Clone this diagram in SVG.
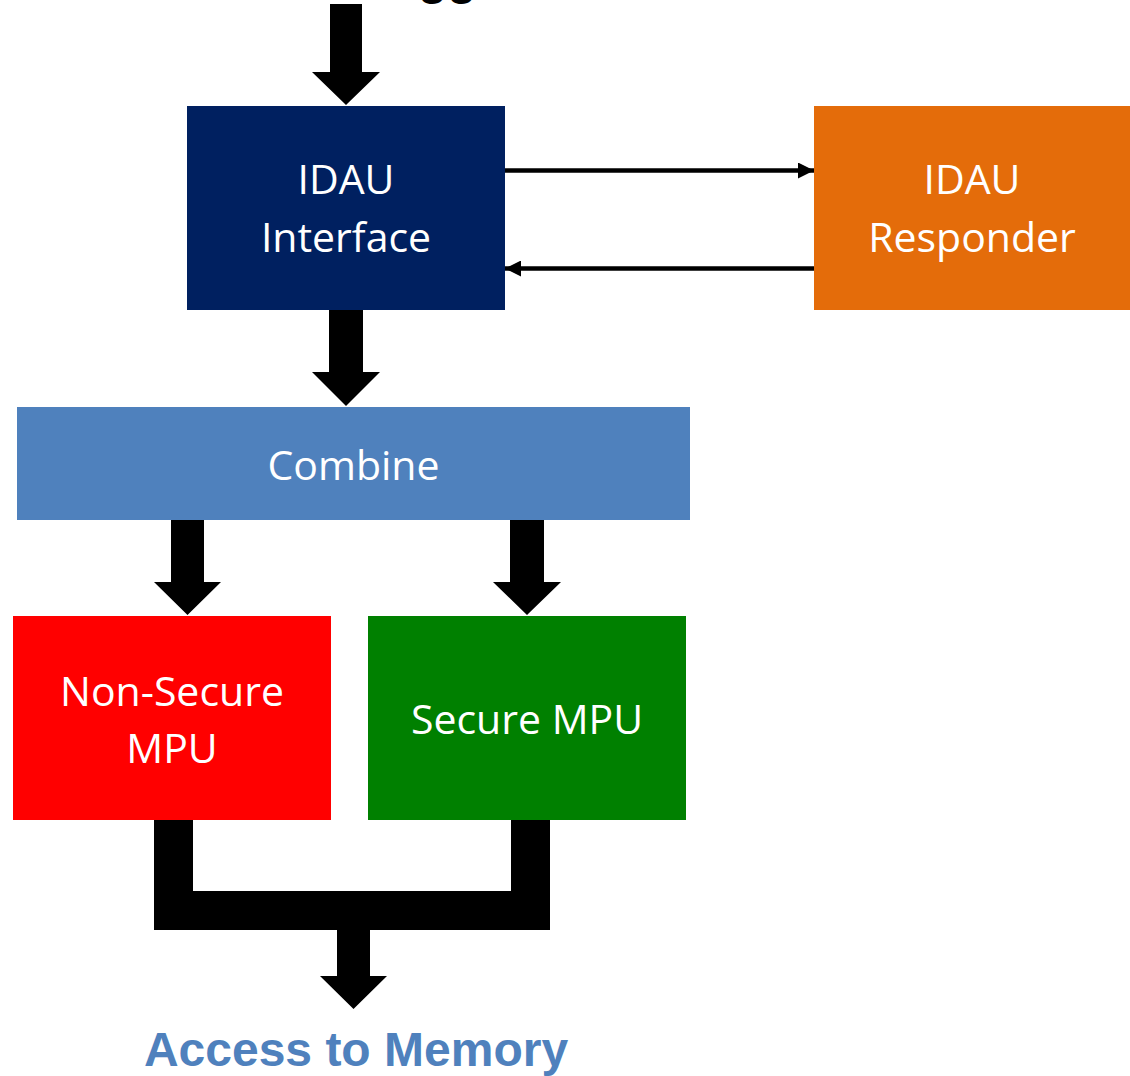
<svg xmlns="http://www.w3.org/2000/svg" width="1130" height="1076" viewBox="0 0 1130 1076">
  <defs>
    <style>
      .label { font-family: "Open Sans", "Noto Sans", "Liberation Sans", sans-serif; font-size: 41px; fill: #ffffff; text-anchor: middle; }
      .title { font-family: "Liberation Sans", Arial, sans-serif; font-size: 48px; font-weight: bold; }
      .block { fill: #000000; }
      .thin { stroke: #000000; stroke-width: 4.5; fill: none; }
    </style>
    <marker id="head" viewBox="0 0 16 16" refX="16" refY="8" markerWidth="16" markerHeight="16" markerUnits="userSpaceOnUse" orient="auto">
      <path d="M0,0 L16,8 L0,16 Z" fill="#000000"/>
    </marker>
  </defs>

  <rect width="1130" height="1076" fill="#ffffff"/>

  <!-- incoming label, mostly above the top edge -->
  <text class="title" x="298" y="-6" fill="#000000">Debugger</text>

  <!-- connectors -->
  <g id="connectors">
    <polygon class="block" points="330,4 362,4 362,72 380,72 346,105 312,72 330,72"/>
    <polygon class="block" points="329,310 363,310 363,372 380,372 346,406 312,372 329,372"/>
    <polygon class="block" points="171,520 204,520 204,582 221,582 187.5,615 154,582 171,582"/>
    <polygon class="block" points="510,520 544,520 544,582 561,582 527,615 493,582 510,582"/>
    <path class="block" d="M154,818 H193 V891 H511 V818 H550 V930 H154 Z"/>
    <polygon class="block" points="337,929 370,929 370,976 387,976 353.5,1009 320,976 337,976"/>
    <line class="thin" x1="505" y1="170.5" x2="814" y2="170.5" marker-end="url(#head)"/>
    <line class="thin" x1="814" y1="268.5" x2="505" y2="268.5" marker-end="url(#head)"/>
  </g>

  <g id="idau-interface">
    <rect x="187" y="106" width="318" height="204" fill="#002060"/>
    <text class="label" x="346" y="194">IDAU</text>
    <text class="label" x="346" y="252">Interface</text>
  </g>

  <g id="idau-responder">
    <rect x="814" y="106" width="316" height="204" fill="#E46C0A"/>
    <text class="label" x="972" y="194">IDAU</text>
    <text class="label" x="972" y="252">Responder</text>
  </g>

  <g id="combine">
    <rect x="17" y="407" width="673" height="113" fill="#4F81BD"/>
    <text class="label" x="353.5" y="480">Combine</text>
  </g>

  <g id="non-secure-mpu">
    <rect x="13" y="616" width="318" height="204" fill="#FF0000"/>
    <text class="label" x="172" y="706">Non-Secure</text>
    <text class="label" x="172" y="763">MPU</text>
  </g>

  <g id="secure-mpu">
    <rect x="368" y="616" width="318" height="204" fill="#008000"/>
    <text class="label" x="527" y="734">Secure MPU</text>
  </g>

  <g id="memory-access">
    <text class="title" x="356" y="1066" fill="#4F81BD" text-anchor="middle">Access to Memory</text>
  </g>
</svg>
